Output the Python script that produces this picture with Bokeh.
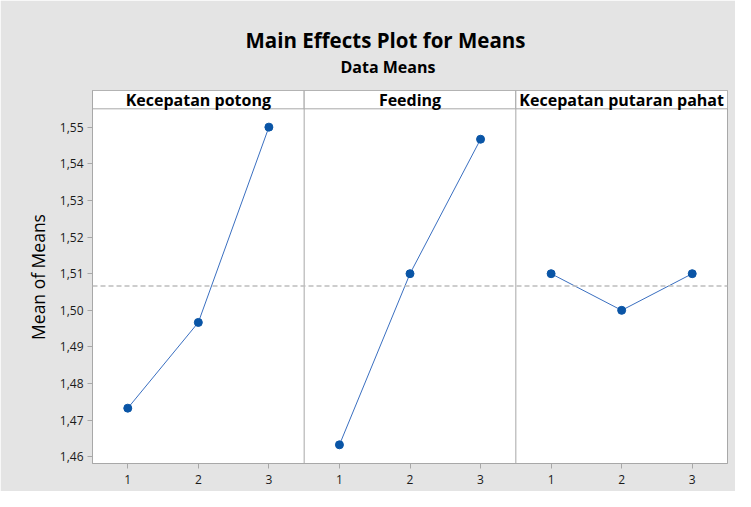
from bokeh.plotting import figure
from bokeh.models import Range1d, FixedTicker, CustomJSTickFormatter, Span, Title, ColumnDataSource
from bokeh.core.properties import value
from bokeh.embed import file_html
from bokeh.resources import INLINE

# ---- data ----
levels = [1, 2, 3]
factors = ["Kecepatan potong", "Feeding", "Kecepatan putaran pahat"]
means_kecepatan_potong = [1.4733, 1.4967, 1.5500]
means_feeding = [1.4633, 1.5100, 1.5467]
means_putaran_pahat = [1.5100, 1.5000, 1.5100]
y_ticks = [1.46, 1.47, 1.48, 1.49, 1.50, 1.51, 1.52, 1.53, 1.54, 1.55]
x_tick_labels = ["1", "2", "3"]
title_text = "Main Effects Plot for Means"
subtitle_text = "Data Means"

series = [means_kecepatan_potong, means_feeding, means_putaran_pahat]
all_vals = [v for s in series for v in s]
overall_mean = sum(all_vals) / len(all_vals)

FONT = "Open Sans"
GREY_BG = "#e4e4e4"
BORDER = "#a8a8a8"
BLUE = "#0a55a6"
LINE_BLUE = "#3a6fc0"

y_start, y_data_top, y_end = 1.4582, 1.5550, 1.5600
n_lv = len(levels)
x_start = 0.5
x_end = n_lv * len(factors) + 0.5

p = figure(width=735, height=491, output_backend="svg", toolbar_location=None,
           x_range=Range1d(x_start, x_end), y_range=Range1d(y_start, y_end),
           title=None, min_border_left=92, min_border_right=8,
           min_border_top=90, min_border_bottom=28)
p.background_fill_color = "white"
p.border_fill_color = GREY_BG
p.outline_line_color = BORDER
p.outline_line_width = 1
p.grid.visible = False

# titles (first added sits closest to the frame); first one is a blank spacer
p.add_layout(Title(text=" ", text_font=FONT, text_font_size="8px", standoff=0), "above")
p.add_layout(Title(text=subtitle_text, align="left", offset=248, text_font=FONT,
                   text_font_size="16px", text_font_style="bold",
                   text_color="#000000", standoff=0), "above")
p.add_layout(Title(text=title_text, align="left", offset=153, text_font=FONT,
                   text_font_size="20.5px", text_font_style="bold",
                   text_color="#000000", standoff=0), "above")

# axes
xticks = [lv + n_lv * k for k in range(len(factors)) for lv in levels]
overrides = {}
for k in range(len(factors)):
    for i, lv in enumerate(levels):
        overrides[lv + n_lv * k] = x_tick_labels[i]
p.xaxis.ticker = FixedTicker(ticks=xticks)
p.xaxis.major_label_overrides = overrides
p.yaxis.ticker = FixedTicker(ticks=y_ticks)
p.yaxis.formatter = CustomJSTickFormatter(code="return tick.toFixed(2).replace('.', ',');")
for ax in (p.xaxis, p.yaxis):
    ax.axis_line_color = BORDER
    ax.major_tick_line_color = BORDER
    ax.major_tick_out = 5
    ax.major_tick_in = 0
    ax.minor_tick_line_color = None
    ax.major_label_text_font = FONT
    ax.major_label_text_font_size = "12px"
    ax.major_label_text_color = "#1a1a1a"
p.xaxis.major_label_standoff = 6
p.yaxis.major_label_standoff = 4
p.yaxis.axis_label = "Mean of Means"
p.yaxis.axis_label_text_font = FONT
p.yaxis.axis_label_text_font_size = "17.5px"
p.yaxis.axis_label_text_font_style = "normal"
p.yaxis.axis_label_text_color = "#000000"
p.yaxis.axis_label_standoff = 7

# panel separators
seps = [n_lv * k + 0.5 for k in range(1, len(factors))]
p.segment(x0=seps, y0=[y_start] * len(seps), x1=seps, y1=[y_end] * len(seps),
          line_color=BORDER, line_width=1)

# headers
lefts = [n_lv * k + 0.5 for k in range(len(factors))]
rights = [n_lv * (k + 1) + 0.5 for k in range(len(factors))]
hdr = ColumnDataSource(dict(left=lefts, right=rights,
                            bottom=[y_data_top] * len(factors), top=[y_end] * len(factors),
                            cx=[(a + b) / 2 for a, b in zip(lefts, rights)],
                            cy=[(y_data_top + y_end) / 2] * len(factors),
                            name=factors))
p.quad(left="left", right="right", bottom="bottom", top="top", source=hdr,
       fill_color="white", line_color=BORDER, line_width=1)
p.text(x="cx", y="cy", text="name", source=hdr, text_align="center",
       text_baseline="middle", text_font=value(FONT), text_font_size="16px",
       text_font_style="bold", text_color="#000000")

# mean reference line
p.add_layout(Span(location=overall_mean, dimension="width", line_color="#bdbdbd",
                  line_dash="5 3", line_width=1.5))

# series
for k, s in enumerate(series):
    xs = [lv + n_lv * k for lv in levels]
    p.line(xs, s, line_color=LINE_BLUE, line_width=1)
    p.scatter(xs, s, size=8, fill_color=BLUE, line_color=BLUE)

open("out.html", "w").write(file_html(p, INLINE))
